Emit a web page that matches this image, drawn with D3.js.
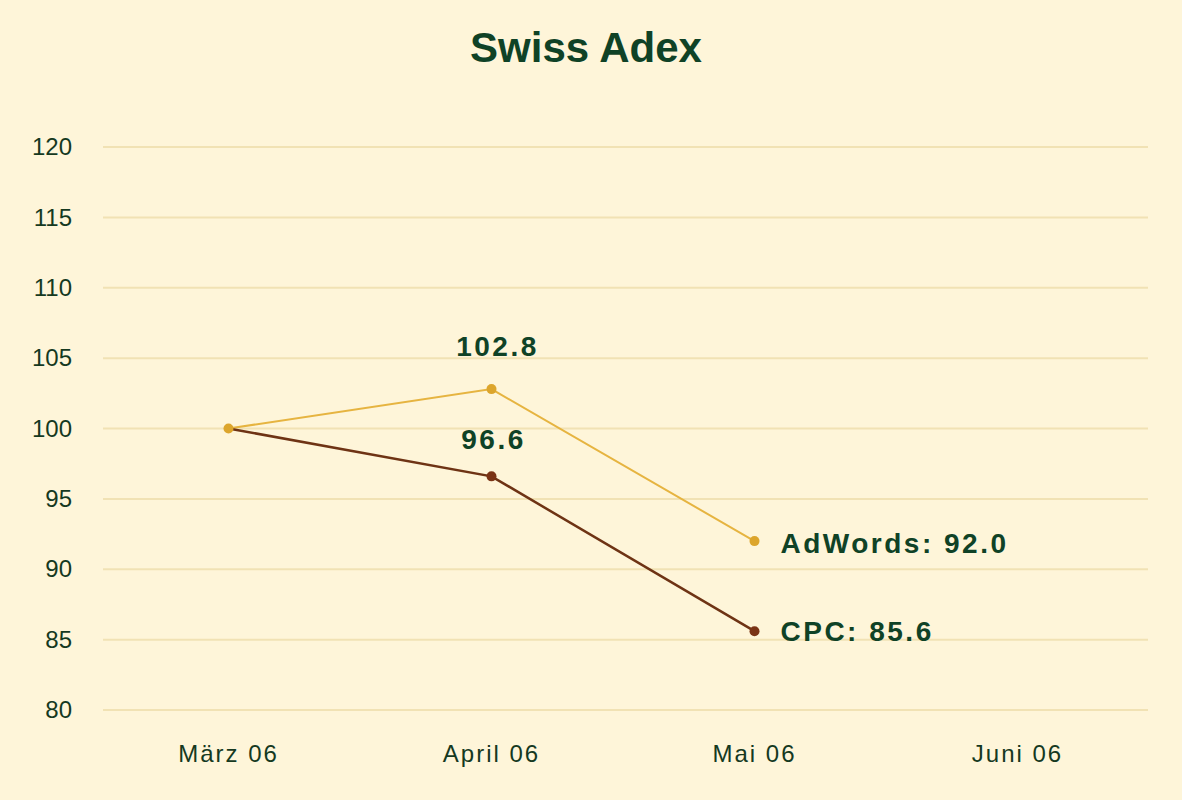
<!DOCTYPE html>
<html>
<head>
<meta charset="utf-8">
<script src="https://cdn.jsdelivr.net/npm/d3@7"></script>
<style>
    html, body { margin: 0; padding: 0; background: #fef5d9; }
    svg { display: block; }
</style>
</head>
<body>
<script>
// Swiss Adex line chart

// Data
var months = ["März 06", "April 06", "Mai 06", "Juni 06"];
var adwordsValues = [100, 102.8, 92.0];
var cpcValues = [100, 96.6, 85.6];
var yTicks = [80, 85, 90, 95, 100, 105, 110, 115, 120];

var chartTitle = "Swiss Adex";
var adwordsName = "AdWords";
var cpcName = "CPC";

// Set width and height
var width = 1182;
var height = 800;

var textColor = "#15391f";
var valueColor = "#0f4226";

// Create SVG canvas
var svg = d3.select('body').append('svg')
    .attr('width', width)
    .attr('height', height);

svg.append("rect")
    .attr("width", width)
    .attr("height", height)
    .attr("fill", "#fef5d9");

// Create x and y scales
var x = d3.scaleBand()
    .domain(months)
    .range([97, 1149]);

var y = d3.scaleLinear()
    .domain([80, 120])
    .range([710, 147]);

function cx(i) { return x(months[i]) + x.bandwidth() / 2; }

// Title
svg.append("text")
    .attr("x", 586)
    .attr("y", 62)
    .attr("text-anchor", "middle")
    .attr("font-family", "Liberation Sans, Arial, sans-serif")
    .attr("font-weight", "bold")
    .attr("font-size", "42px")
    .attr("fill", valueColor)
    .text(chartTitle);

// Grid lines
svg.append("g")
    .selectAll("line")
    .data(yTicks)
    .enter().append("line")
    .attr("x1", 103)
    .attr("x2", 1148)
    .attr("y1", function(d) { return y(d); })
    .attr("y2", function(d) { return y(d); })
    .attr("stroke", "#f1e2b4")
    .attr("stroke-width", 2);

// Y axis labels
var yAxis = svg.append("g")
    .attr("transform", "translate(72,0)")
    .call(d3.axisLeft(y).tickValues(yTicks).tickSize(0).tickPadding(0));
yAxis.select(".domain").remove();
yAxis.selectAll("text")
    .attr("font-family", "Liberation Sans, Arial, sans-serif")
    .attr("font-size", "24px")
    .attr("fill", textColor);

// X axis labels
var xAxis = svg.append("g")
    .attr("transform", "translate(0,745)")
    .call(d3.axisBottom(x).tickSize(0).tickPadding(0));
xAxis.select(".domain").remove();
xAxis.selectAll("text")
    .attr("font-family", "Liberation Sans, Arial, sans-serif")
    .attr("font-size", "24px")
    .attr("letter-spacing", "2px")
    .attr("fill", textColor);

// Lines
var line = d3.line()
    .x(function(d, i) { return cx(i); })
    .y(function(d) { return y(d); });

svg.append("path")
    .datum(adwordsValues)
    .attr("fill", "none")
    .attr("stroke", "#e6b440")
    .attr("stroke-width", 2)
    .attr("d", line);

svg.append("path")
    .datum(cpcValues)
    .attr("fill", "none")
    .attr("stroke", "#6e3314")
    .attr("stroke-width", 2.5)
    .attr("d", line);

// Markers
svg.selectAll(".dotA")
    .data(adwordsValues)
    .enter().append("circle")
    .attr("r", 5)
    .attr("fill", "#dca52c")
    .attr("cx", function(d, i) { return cx(i); })
    .attr("cy", function(d) { return y(d); });

svg.selectAll(".dotC")
    .data(cpcValues.slice(1))
    .enter().append("circle")
    .attr("r", 5)
    .attr("fill", "#7a3315")
    .attr("cx", function(d, i) { return cx(i + 1); })
    .attr("cy", function(d) { return y(d); });

// Value labels
function valueLabel(tx, ty, anchor, str) {
    svg.append("text")
        .attr("x", tx)
        .attr("y", ty)
        .attr("text-anchor", anchor)
        .attr("font-family", "Liberation Sans, Arial, sans-serif")
        .attr("font-weight", "bold")
        .attr("font-size", "28px")
        .attr("letter-spacing", "2.5px")
        .attr("fill", valueColor)
        .text(str);
}

valueLabel(cx(1) + 6, y(adwordsValues[1]) - 33, "middle", adwordsValues[1].toFixed(1));
valueLabel(cx(1) + 2, y(cpcValues[1]) - 27, "middle", cpcValues[1].toFixed(1));
valueLabel(cx(2) + 26, y(adwordsValues[2]) + 12, "start", adwordsName + ": " + adwordsValues[2].toFixed(1));
valueLabel(cx(2) + 26, y(cpcValues[2]) + 10, "start", cpcName + ": " + cpcValues[2].toFixed(1));

</script>
</body>
</html>
